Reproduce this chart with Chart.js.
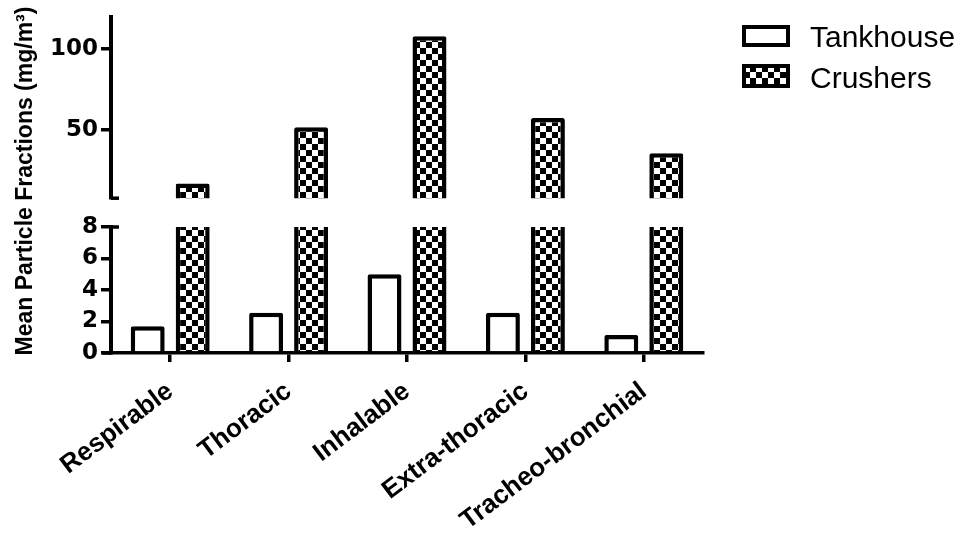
<!DOCTYPE html>
<html>
<head>
<meta charset="utf-8">
<script src="https://cdn.jsdelivr.net/npm/chart.js@4.4.1/dist/chart.umd.min.js"></script>
<style>
  html, body { margin: 0; padding: 0; background: #fff; }
  #page { position: relative; width: 969px; height: 542px; overflow: hidden; }
  .box { position: absolute; left: 0; width: 969px; }
  #top { top: 0; height: 215px; }
  #bottom { top: 200px; height: 342px; }
  #ytitle {
    position: absolute; left: -156px; top: 168px; width: 360px; height: 26px;
    line-height: 26px; text-align: center; white-space: nowrap; color: #000;
    font: bold 23px "Liberation Sans", Arial, sans-serif;
    transform: rotate(-90deg);
  }
</style>
</head>
<body>
<div id="page">
  <div class="box" id="top"><canvas id="upperChart"></canvas></div>
  <div class="box" id="bottom"><canvas id="lowerChart"></canvas></div>
  <div id="ytitle">Mean Particle Fractions (mg/m³)</div>
</div>
<script>
// --- data ---
const categories = ['Respirable', 'Thoracic', 'Inhalable', 'Extra-thoracic', 'Tracheo-bronchial'];
const seriesNames = ['Tankhouse', 'Crushers'];
const tankhouse = [1.7, 2.55, 5.0, 2.55, 1.15];
const crushers = [17, 51.8, 108, 57.5, 35.8];
const upperRange = [8, 120];
const upperTicks = [50, 100];
const lowerRange = [0, 8];
const lowerStep = 2;

const tickFont = { family: 'DejaVu Sans', size: 23, weight: 'bold' };
const labelFont = { family: 'Liberation Sans', size: 26, weight: 'bold' };

// checkerboard fill for the crushers bars
function checkerPattern() {
    const c = document.createElement('canvas');
    c.width = 12; c.height = 12;
    const g = c.getContext('2d');
    g.fillStyle = '#fff'; g.fillRect(0, 0, 12, 12);
    g.fillStyle = '#000'; g.fillRect(0, 0, 6, 6); g.fillRect(6, 6, 6, 6);
    return g.createPattern(c, 'repeat');
}
const checker = checkerPattern();

function makeDatasets() {
    const common = {
        borderColor: '#000', borderWidth: 4.5, borderRadius: 2, borderSkipped: 'start',
        categoryPercentage: 0.76, barPercentage: 0.755, clip: 0
    };
    return [
        Object.assign({ label: seriesNames[0], data: tankhouse, backgroundColor: '#fff' }, common),
        Object.assign({ label: seriesNames[1], data: crushers, backgroundColor: checker }, common)
    ];
}

// legend sits to the right of the plot, outside the chart layout
const sideLegend = {
    id: 'sideLegend',
    afterDraw(chart) {
        const ctx = chart.ctx;
        const rows = [25, 64];
        chart.data.datasets.forEach((ds, i) => {
            const top = rows[i];
            const h = i === 0 ? 22 : 24;
            ctx.save();
            ctx.fillStyle = ds.backgroundColor;
            ctx.fillRect(744, top + 2, 44, h - 4);
            ctx.lineWidth = 4;
            ctx.strokeStyle = '#000';
            ctx.strokeRect(744, top + 2, 44, h - 4);
            ctx.fillStyle = '#000';
            ctx.font = '30px "Liberation Sans", Arial, sans-serif';
            ctx.fillText(ds.label, 810, top + h);
            ctx.restore();
        });
    }
};

// small caps where the y axis is broken, plus the x axis stub left of the y axis
const breakCaps = {
    id: 'breakCaps',
    afterDraw(chart, args, opts) {
        const { ctx, chartArea } = chart;
        ctx.save();
        ctx.strokeStyle = '#000';
        ctx.lineWidth = 3.5;
        ctx.beginPath();
        const y = opts.edge === 'bottom' ? chartArea.bottom : chartArea.top;
        ctx.moveTo(chartArea.left, y);
        ctx.lineTo(chartArea.left + 8, y);
        if (opts.stub) {
            ctx.moveTo(chartArea.left - 9, chartArea.bottom);
            ctx.lineTo(chartArea.left, chartArea.bottom);
        }
        ctx.stroke();
        ctx.restore();
    }
};

const yStyle = {
    afterFit: s => { s.width = 111; },
    border: { color: '#000', width: 4 },
    grid: { drawOnChartArea: false, color: '#000', lineWidth: 3.5, tickLength: 10 },
    ticks: { color: '#000', font: tickFont, padding: 3 }
};

// --- upper segment (8 - 120) ---
new Chart(document.getElementById('upperChart'), {
    type: 'bar',
    data: { labels: categories, datasets: makeDatasets() },
    plugins: [sideLegend, breakCaps],
    options: {
        responsive: true, maintainAspectRatio: false, animation: false, events: [],
        layout: { padding: { top: 13, bottom: 13, left: 0, right: 266 } },
        plugins: {
            tooltip: { enabled: false }, legend: { display: false },
            breakCaps: { edge: 'bottom', stub: false }
        },
        scales: {
            x: { display: false },
            y: Object.assign({}, yStyle, {
                min: upperRange[0], max: upperRange[1],
                afterBuildTicks: s => { s.ticks = upperTicks.map(v => ({ value: v })); }
            })
        }
    }
});

// --- lower segment (0 - 8) ---
new Chart(document.getElementById('lowerChart'), {
    type: 'bar',
    data: { labels: categories, datasets: makeDatasets() },
    plugins: [breakCaps],
    options: {
        responsive: true, maintainAspectRatio: false, animation: false, events: [],
        layout: { padding: { top: 27, bottom: 0, left: 0, right: 266 } },
        plugins: {
            tooltip: { enabled: false }, legend: { display: false },
            breakCaps: { edge: 'top', stub: true }
        },
        scales: {
            x: {
                offset: true,
                afterFit: s => { s.height = 189; },
                border: { color: '#000', width: 3.5 },
                grid: { offset: false, drawOnChartArea: false, color: '#000', lineWidth: 3.5, tickLength: 9 },
                ticks: { color: '#000', font: labelFont, minRotation: 37, maxRotation: 37, autoSkip: false, padding: 14 }
            },
            y: Object.assign({}, yStyle, {
                min: lowerRange[0], max: lowerRange[1],
                ticks: Object.assign({}, yStyle.ticks, { stepSize: lowerStep })
            })
        }
    }
});
</script>
</body>
</html>
